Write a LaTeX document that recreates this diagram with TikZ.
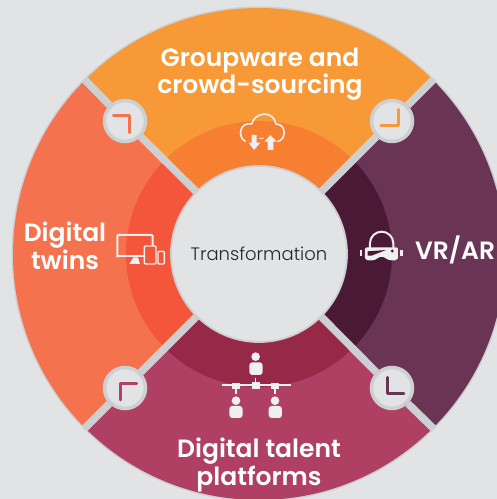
\documentclass[tikz,border=0pt]{standalone}
\usepackage{fontspec}
\setmainfont[BoldFont={Poppins SemiBold}]{Poppins}
\newfontfamily\lightfont{Poppins Light}
\definecolor{pagegrey}{HTML}{E1E3E5}
\definecolor{rimgrey}{HTML}{CDD0D3}
\definecolor{iconwhite}{HTML}{EEEFF0}
\definecolor{orangeA}{HTML}{F89937}
\definecolor{orangeB}{HTML}{F67F31}
\definecolor{coralA}{HTML}{F5724F}
\definecolor{coralB}{HTML}{F3563A}
\definecolor{plumA}{HTML}{6A3455}
\definecolor{plumB}{HTML}{491935}
\definecolor{roseA}{HTML}{B03F64}
\definecolor{roseB}{HTML}{952947}
\begin{document}
\begin{tikzpicture}[x=1pt,y=1pt,
  hub node/.style={circle,draw=rimgrey,line width=1.8pt,fill=pagegrey,minimum size=176pt,inner sep=0pt,font=\lightfont\fontsize{18}{20}\selectfont,text=black!85},
  corner node/.style={circle,draw=rimgrey,line width=3.5pt,fill=pagegrey,minimum size=41pt,inner sep=0pt},
  sep line/.style={draw=rimgrey,line width=7.5pt},
  title node/.style={align=center,text=white,font=\bfseries\fontsize{25}{26}\selectfont,inner sep=0pt},
  elbow/.style={line width=3pt,line cap=round,line join=round},
  icon line/.style={draw=iconwhite,line width=1.6pt,line join=round}]
\useasboundingbox (-259,-245) rectangle (238,254);
\clip (-259,-245) rectangle (238,254);
\fill[pagegrey] (-259,-245) rectangle (238,254);
\fill[rimgrey] (0,0) circle (247.5);
% four sectors
\fill[orangeA] (0,0) -- (45:246) arc[start angle=45,end angle=135,radius=246] -- cycle;
\fill[coralA] (0,0) -- (135:246) arc[start angle=135,end angle=225,radius=246] -- cycle;
\fill[roseA] (0,0) -- (225:246) arc[start angle=225,end angle=315,radius=246] -- cycle;
\fill[plumA] (0,0) -- (315:246) arc[start angle=315,end angle=405,radius=246] -- cycle;
\fill[orangeB] (0,0) -- (45:133) arc[start angle=45,end angle=135,radius=133] -- cycle;
\fill[coralB] (0,0) -- (135:133) arc[start angle=135,end angle=225,radius=133] -- cycle;
\fill[roseB] (0,0) -- (225:133) arc[start angle=225,end angle=315,radius=133] -- cycle;
\fill[plumB] (0,0) -- (315:133) arc[start angle=315,end angle=405,radius=133] -- cycle;
\node [hub node](hub) at (0,0) {\raisebox{-4pt}{Transformation}};
\node [corner node](cTL) at (-134,133) {};
\node [corner node](cTR) at (133,133) {};
\node [corner node](cBL) at (-134,-134) {};
\node [corner node](cBR) at (133,-134) {};
\coordinate (oTL) at (135:247);
\coordinate (oTR) at (45:247);
\coordinate (oBL) at (225:247);
\coordinate (oBR) at (315:247);
\path[sep line]
	(hub) edge (cTL)
	(cTL) edge (oTL)
	(hub) edge (cTR)
	(cTR) edge (oTR)
	(hub) edge (cBL)
	(cBL) edge (oBL)
	(hub) edge (cBR)
	(cBR) edge (oBR)
         ;
\node [title node](groupware) at (1,180) {Groupware and\\crowd-sourcing};
\node [title node](twins) at (-194,8) {Digital\\twins};
\node [title node,anchor=west](vrar) at (156,4) {VR/AR};
\node [title node](talent) at (0,-211) {Digital talent\\platforms};
% corner marks
\begin{scope}[shift={(-179,254)},x=.3333pt,y=-.3333pt]
\draw[elbow,coralA] (100,348) -- (150,348) -- (150,398);
\draw[elbow,orangeA] (955,328) -- (955,378) -- (903,378);
% cloud
\draw[icon line] (497,425) .. controls (470,410) and (480,365) .. (515,372) .. controls (525,335) and (580,330) .. (588,372) .. controls (620,372) and (620,420) .. (592,425);
\fill[iconwhite] (515,405) -- (530,405) -- (530,428) -- (541,428) -- (522,450) -- (506,428) -- (515,428) -- cycle;
\fill[iconwhite] (563,450) -- (580,450) -- (580,425) -- (590,425) -- (571,405) -- (553,425) -- (563,425) -- cycle;
\draw[iconwhite,line width=.8pt] (538,416) -- (552,414);
\end{scope}
\begin{scope}[shift={(-259,74)},x=.3333pt,y=-.3333pt]
% devices
\draw[icon line,line width=2pt,rounded corners=1pt] (352,232) -- (352,165) -- (458,165) -- (458,200);
\draw[icon line,line width=2pt] (352,229) -- (432,229);
\fill[iconwhite] (400,232) -- (414,232) -- (420,252) -- (388,252) -- cycle;
\draw[draw=iconwhite,line width=1.4pt,fill=coralB,rounded corners=1pt] (433,198) rectangle (468,252);
\draw[draw=iconwhite,line width=1.4pt,rounded corners=1pt] (474,214) rectangle (493,252);
\end{scope}
\begin{scope}[shift={(71,64)},x=.3333pt,y=-.3333pt]
% headset
\draw[icon line,line width=2pt] (120,178) -- (120,160) arc[start angle=180,end angle=360,radius=35] -- (190,178);
\fill[iconwhite,rounded corners=2pt] (105,172) -- (204,172) -- (204,210) -- (180,212) -- (155,198) -- (130,212) -- (105,210) -- cycle;
\fill[plumB] (113,184) -- (168,180) -- (125,197) -- (113,197) -- cycle;
\fill[plumB] (187,183) circle (5);
\fill[iconwhite] (89,180) rectangle (97,197);
\fill[iconwhite] (211,180) rectangle (220,197);
\end{scope}
\begin{scope}[shift={(-169,-76)},x=.3333pt,y=-.3333pt]
\draw[elbow,roseA] (140,160) -- (92,160) -- (92,210);
\draw[elbow,plumA] (892,142) -- (892,190) -- (942,190);
% people
\fill[iconwhite] (497,80) circle (13);
\fill[iconwhite,rounded corners=3pt] (478,135) -- (478,97) -- (518,97) -- (518,135) -- cycle;
\draw[iconwhite,line width=2.2pt] (395,166) -- (602,166);
\fill[iconwhite] (485,155) rectangle (510,176);
\fill[iconwhite] (426,160) rectangle (450,176);
\fill[iconwhite] (543,160) rectangle (568,176);
\draw[iconwhite,line width=1.2pt] (497,143) -- (497,156) (438,175) -- (438,192) (555,175) -- (555,192);
\fill[iconwhite] (438,212) circle (13);
\fill[iconwhite,rounded corners=3pt] (418,264) -- (418,228) -- (458,228) -- (458,264) -- cycle;
\fill[iconwhite] (555,212) circle (13);
\fill[iconwhite,rounded corners=3pt] (536,264) -- (536,228) -- (576,228) -- (576,264) -- cycle;
\end{scope}
\end{tikzpicture}
\end{document}
